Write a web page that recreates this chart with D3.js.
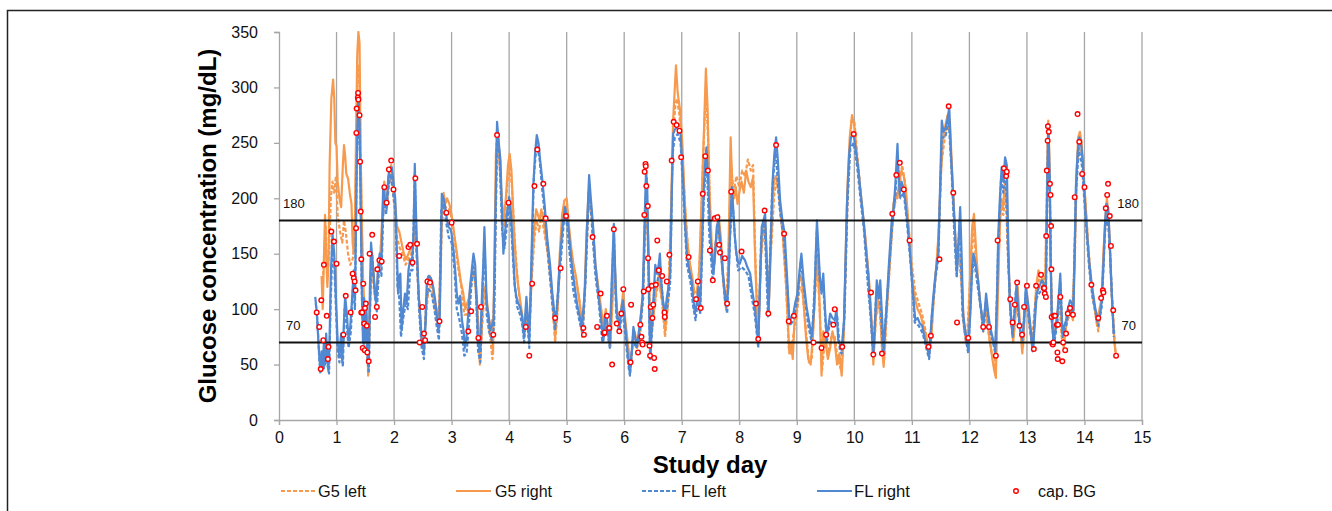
<!DOCTYPE html>
<html><head><meta charset="utf-8">
<script src="https://cdn.jsdelivr.net/npm/d3@7"></script>
<style>body{margin:0;background:#fff;}svg{display:block;font-family:"Liberation Sans",Arial,sans-serif;}</style>
</head><body><svg id="c" width="1332" height="511"></svg>
<script>
const xTicks=[0,1,2,3,4,5,6,7,8,9,10,11,12,13,14,15];
const yTicks=[0,50,100,150,200,250,300,350];
const thresholds=[180,70];
const seriesNames=["G5 left","G5 right","FL left","FL right","cap. BG"];

const flRight=[[0.63,111],[0.66,95],[0.68,75],[0.70,58],[0.72,45],[0.74,62],[0.76,48],[0.78,70],[0.80,50],[0.82,78],[0.84,55],[0.86,44],[0.88,75],[0.90,130],[0.93,168],[0.96,150],[0.99,110],[1.02,70],[1.05,58],[1.08,78],[1.10,52],[1.13,90],[1.15,112],[1.18,95],[1.21,72],[1.24,85],[1.27,110],[1.30,135],[1.32,110],[1.34,180],[1.36,260],[1.38,292],[1.40,270],[1.42,190],[1.44,120],[1.46,70],[1.48,110],[1.50,70],[1.52,100],[1.54,60],[1.56,48],[1.58,120],[1.60,160],[1.63,140],[1.66,120],[1.69,105],[1.72,135],[1.75,150],[1.78,140],[1.81,210],[1.84,200],[1.87,190],[1.90,220],[1.93,228],[1.96,228],[1.99,215],[2.02,200],[2.05,150],[2.07,114],[2.09,130],[2.11,132],[2.13,81],[2.16,100],[2.19,114],[2.22,105],[2.25,135],[2.28,145],[2.31,140],[2.34,170],[2.36,231],[2.38,190],[2.40,150],[2.43,110],[2.45,99],[2.48,72],[2.52,62],[2.55,90],[2.57,126],[2.60,130],[2.64,128],[2.68,120],[2.71,110],[2.74,96],[2.77,82],[2.79,85],[2.81,140],[2.83,204],[2.86,200],[2.89,192],[2.92,180],[2.95,174],[2.98,172],[3.00,168],[3.04,150],[3.07,130],[3.09,114],[3.12,105],[3.15,112],[3.18,90],[3.21,80],[3.23,65],[3.26,75],[3.29,96],[3.32,120],[3.35,135],[3.38,150],[3.41,140],[3.44,102],[3.46,70],[3.49,62],[3.52,102],[3.55,140],[3.57,174],[3.59,140],[3.61,105],[3.64,95],[3.67,81],[3.70,85],[3.73,90],[3.76,180],[3.79,269],[3.82,250],[3.85,234],[3.88,180],[3.90,150],[3.93,170],[3.96,185],[4.00,201],[4.02,195],[4.04,180],[4.07,150],[4.10,120],[4.13,110],[4.16,105],[4.19,102],[4.22,95],[4.26,75],[4.28,95],[4.30,111],[4.33,90],[4.35,72],[4.37,110],[4.39,150],[4.42,210],[4.45,240],[4.48,257],[4.51,250],[4.54,234],[4.58,215],[4.62,192],[4.66,165],[4.71,141],[4.75,115],[4.80,90],[4.83,100],[4.86,125],[4.89,150],[4.93,175],[4.97,192],[5.00,185],[5.03,174],[5.07,150],[5.10,135],[5.14,120],[5.18,105],[5.22,95],[5.26,84],[5.29,100],[5.32,120],[5.35,170],[5.39,221],[5.42,200],[5.46,174],[5.50,140],[5.55,114],[5.58,100],[5.61,85],[5.64,72],[5.67,95],[5.69,96],[5.72,80],[5.75,72],[5.78,120],[5.82,177],[5.84,140],[5.87,96],[5.90,90],[5.92,84],[5.95,100],[5.98,108],[6.01,90],[6.04,72],[6.07,55],[6.10,42],[6.13,60],[6.16,84],[6.19,75],[6.22,66],[6.25,78],[6.28,90],[6.30,100],[6.32,111],[6.34,150],[6.36,190],[6.38,225],[6.40,210],[6.42,150],[6.44,80],[6.46,60],[6.48,90],[6.51,110],[6.54,140],[6.57,132],[6.60,140],[6.62,150],[6.65,120],[6.68,105],[6.71,96],[6.74,110],[6.77,120],[6.80,132],[6.83,210],[6.85,258],[6.88,262],[6.91,264],[6.95,262],[6.98,258],[7.01,230],[7.03,210],[7.06,175],[7.09,150],[7.13,135],[7.17,126],[7.20,110],[7.23,96],[7.26,105],[7.29,120],[7.32,102],[7.35,150],[7.38,204],[7.41,235],[7.43,246],[7.46,215],[7.49,174],[7.52,150],[7.55,132],[7.58,150],[7.61,175],[7.64,180],[7.67,160],[7.69,150],[7.72,130],[7.75,115],[7.78,102],[7.81,120],[7.84,170],[7.87,210],[7.89,195],[7.92,168],[7.95,150],[7.98,142],[8.01,141],[8.05,148],[8.10,144],[8.14,138],[8.19,132],[8.23,115],[8.27,102],[8.30,85],[8.33,69],[8.36,120],[8.39,174],[8.42,180],[8.45,186],[8.48,140],[8.51,96],[8.54,150],[8.58,216],[8.61,240],[8.64,255],[8.67,235],[8.71,198],[8.75,180],[8.79,168],[8.83,130],[8.87,90],[8.90,92],[8.94,96],[8.97,105],[9.01,114],[9.04,130],[9.08,150],[9.12,125],[9.17,102],[9.21,90],[9.26,75],[9.30,100],[9.33,150],[9.35,180],[9.38,150],[9.40,130],[9.43,114],[9.46,132],[9.49,100],[9.52,75],[9.55,85],[9.58,96],[9.62,92],[9.66,90],[9.69,100],[9.72,72],[9.75,68],[9.78,63],[9.82,90],[9.85,150],[9.87,192],[9.91,240],[9.94,255],[9.99,257],[10.03,242],[10.07,226],[10.11,205],[10.16,180],[10.20,155],[10.24,132],[10.28,100],[10.33,60],[10.36,90],[10.39,126],[10.42,110],[10.45,126],[10.48,95],[10.51,63],[10.53,80],[10.56,102],[10.60,140],[10.65,180],[10.68,190],[10.71,210],[10.75,249],[10.77,220],[10.79,204],[10.82,215],[10.85,210],[10.88,200],[10.92,180],[10.97,150],[11.01,120],[11.06,90],[11.10,92],[11.14,87],[11.18,85],[11.23,72],[11.27,65],[11.30,57],[11.34,90],[11.37,110],[11.40,126],[11.43,140],[11.46,150],[11.49,210],[11.52,270],[11.55,260],[11.59,264],[11.62,272],[11.65,282],[11.68,240],[11.71,210],[11.75,170],[11.78,132],[11.81,160],[11.84,192],[11.87,140],[11.89,96],[11.93,80],[11.98,63],[12.02,100],[12.05,140],[12.07,150],[12.11,140],[12.15,126],[12.19,105],[12.24,84],[12.27,100],[12.29,114],[12.33,95],[12.36,84],[12.40,75],[12.45,63],[12.48,110],[12.50,165],[12.53,200],[12.56,228],[12.59,215],[12.62,237],[12.65,230],[12.68,150],[12.70,108],[12.73,90],[12.75,78],[12.79,100],[12.82,123],[12.85,100],[12.88,81],[12.93,75],[12.96,100],[12.98,120],[13.02,105],[13.05,90],[13.08,75],[13.11,66],[13.14,90],[13.17,114],[13.21,120],[13.26,126],[13.30,122],[13.33,120],[13.35,200],[13.37,267],[13.38,250],[13.40,210],[13.41,150],[13.43,96],[13.46,72],[13.49,80],[13.52,90],[13.55,110],[13.58,132],[13.60,100],[13.62,78],[13.65,85],[13.68,90],[13.71,100],[13.75,108],[13.78,105],[13.81,99],[13.83,150],[13.85,210],[13.88,240],[13.91,255],[13.94,250],[13.97,234],[14.00,205],[14.02,186],[14.05,165],[14.08,144],[14.12,125],[14.15,114],[14.19,100],[14.24,90],[14.27,95],[14.30,108],[14.33,140],[14.36,180],[14.38,195],[14.41,192],[14.44,160],[14.47,120],[14.49,95],[14.51,78]];

const flLeft=[[0.64,105],[0.67,88],[0.70,55],[0.72,42],[0.75,60],[0.78,45],[0.81,72],[0.84,50],[0.87,42],[0.90,110],[0.93,155],[0.96,140],[0.99,100],[1.02,62],[1.05,52],[1.08,70],[1.11,48],[1.14,100],[1.17,90],[1.21,65],[1.25,80],[1.29,125],[1.32,100],[1.35,230],[1.38,285],[1.41,240],[1.44,110],[1.47,65],[1.50,95],[1.53,60],[1.56,42],[1.59,120],[1.62,150],[1.66,115],[1.70,98],[1.74,140],[1.78,130],[1.82,200],[1.86,185],[1.90,210],[1.94,222],[1.98,205],[2.02,190],[2.06,120],[2.09,110],[2.12,75],[2.16,92],[2.20,105],[2.24,100],[2.28,135],[2.32,135],[2.36,222],[2.40,140],[2.44,95],[2.48,65],[2.52,55],[2.56,110],[2.60,118],[2.65,115],[2.70,100],[2.74,85],[2.78,72],[2.82,190],[2.86,195],[2.90,180],[2.95,165],[3.00,160],[3.05,135],[3.09,100],[3.13,92],[3.18,78],[3.22,58],[3.26,60],[3.30,85],[3.34,120],[3.38,138],[3.42,120],[3.46,62],[3.50,52],[3.54,120],[3.57,160],[3.61,95],[3.65,80],[3.70,72],[3.74,85],[3.79,262],[3.83,240],[3.88,170],[3.92,155],[3.96,175],[4.00,192],[4.04,170],[4.09,125],[4.14,102],[4.19,95],[4.23,85],[4.26,70],[4.30,100],[4.35,65],[4.39,140],[4.43,220],[4.48,250],[4.53,235],[4.58,205],[4.63,180],[4.69,140],[4.75,105],[4.80,82],[4.85,115],[4.90,145],[4.96,185],[5.01,175],[5.06,145],[5.12,115],[5.18,100],[5.24,85],[5.28,78],[5.33,130],[5.39,212],[5.44,175],[5.50,130],[5.56,105],[5.62,70],[5.67,88],[5.72,75],[5.75,65],[5.79,130],[5.82,170],[5.86,95],[5.92,80],[5.97,100],[6.02,75],[6.07,50],[6.10,40],[6.15,75],[6.20,65],[6.25,70],[6.29,88],[6.33,110],[6.36,180],[6.39,218],[6.42,140],[6.45,55],[6.49,85],[6.53,125],[6.58,125],[6.62,140],[6.67,110],[6.71,90],[6.76,105],[6.80,125],[6.84,240],[6.88,255],[6.93,258],[6.98,250],[7.03,200],[7.09,140],[7.15,125],[7.20,102],[7.24,90],[7.29,112],[7.32,95],[7.38,195],[7.43,240],[7.48,165],[7.54,125],[7.60,165],[7.64,172],[7.70,140],[7.75,108],[7.79,96],[7.84,165],[7.88,200],[7.93,160],[7.98,135],[8.04,138],[8.10,135],[8.16,130],[8.22,110],[8.27,95],[8.33,65],[8.38,165],[8.44,178],[8.50,92],[8.57,205],[8.63,245],[8.70,192],[8.78,160],[8.84,115],[8.88,85],[8.94,90],[9.01,108],[9.07,145],[9.13,115],[9.20,85],[9.26,70],[9.31,120],[9.35,172],[9.40,125],[9.46,120],[9.52,70],[9.58,90],[9.65,85],[9.70,95],[9.75,62],[9.78,60],[9.83,95],[9.88,195],[9.93,245],[9.99,250],[10.05,228],[10.11,198],[10.17,170],[10.23,125],[10.28,95],[10.33,57],[10.38,115],[10.44,118],[10.50,60],[10.55,95],[10.61,140],[10.66,175],[10.71,200],[10.75,235],[10.80,200],[10.86,205],[10.92,175],[10.98,140],[11.05,88],[11.12,85],[11.19,78],[11.25,65],[11.30,55],[11.35,95],[11.41,128],[11.46,145],[11.52,255],[11.58,255],[11.64,270],[11.69,225],[11.74,165],[11.78,128],[11.83,180],[11.88,95],[11.93,75],[11.98,60],[12.04,130],[12.08,145],[12.14,122],[12.20,100],[12.24,80],[12.29,108],[12.35,82],[12.41,70],[12.45,60],[12.50,155],[12.55,218],[12.59,205],[12.63,228],[12.67,150],[12.71,100],[12.75,75],[12.81,118],[12.86,90],[12.92,72],[12.98,115],[13.04,88],[13.10,62],[13.15,108],[13.22,115],[13.28,118],[13.33,115],[13.37,255],[13.40,200],[13.43,90],[13.47,68],[13.53,88],[13.58,125],[13.62,75],[13.68,85],[13.74,102],[13.80,95],[13.85,200],[13.90,245],[13.96,228],[14.02,180],[14.08,138],[14.14,110],[14.20,95],[14.24,85],[14.30,102],[14.36,172],[14.40,185],[14.44,155],[14.48,110],[14.51,75]];

const g5Right=[[0.74,130],[0.76,100],[0.78,145],[0.80,185],[0.82,150],[0.84,120],[0.86,140],[0.88,230],[0.91,290],[0.94,307],[0.96,290],[0.98,250],[1.00,247],[1.02,215],[1.05,200],[1.08,192],[1.11,230],[1.13,248],[1.15,238],[1.17,222],[1.20,218],[1.23,205],[1.26,195],[1.28,160],[1.30,150],[1.32,180],[1.34,260],[1.36,330],[1.38,352],[1.40,340],[1.42,240],[1.44,180],[1.46,130],[1.48,105],[1.50,80],[1.52,95],[1.54,60],[1.55,40],[1.58,100],[1.61,150],[1.64,135],[1.67,115],[1.70,120],[1.73,140],[1.76,145],[1.80,190],[1.83,215],[1.86,200],[1.89,205],[1.92,225],[1.95,230],[1.98,210],[2.02,195],[2.05,175],[2.09,170],[2.13,160],[2.17,150],[2.21,145],[2.25,150],[2.29,155],[2.33,160],[2.36,175],[2.39,160],[2.42,120],[2.45,95],[2.48,70],[2.52,68],[2.55,95],[2.58,125],[2.62,130],[2.66,125],[2.70,110],[2.74,100],[2.77,80],[2.80,130],[2.83,185],[2.86,205],[2.89,195],[2.92,200],[2.96,195],[3.00,185],[3.04,170],[3.08,155],[3.12,140],[3.16,125],[3.20,115],[3.24,100],[3.27,105],[3.30,110],[3.34,125],[3.37,140],[3.40,135],[3.44,110],[3.47,75],[3.50,55],[3.53,90],[3.56,120],[3.60,115],[3.63,100],[3.67,80],[3.70,90],[3.72,60],[3.74,130],[3.77,240],[3.80,260],[3.83,240],[3.87,200],[3.91,180],[3.95,205],[3.98,230],[4.01,240],[4.04,225],[4.08,175],[4.12,140],[4.16,120],[4.20,105],[4.24,90],[4.27,80],[4.30,105],[4.33,80],[4.36,90],[4.40,140],[4.44,175],[4.47,190],[4.50,185],[4.53,180],[4.56,190],[4.60,180],[4.65,160],[4.70,140],[4.75,110],[4.80,75],[4.84,100],[4.88,150],[4.92,185],[4.96,198],[5.00,200],[5.04,175],[5.08,155],[5.12,140],[5.16,130],[5.20,115],[5.24,100],[5.27,80],[5.30,100],[5.34,160],[5.38,205],[5.42,195],[5.46,170],[5.50,140],[5.55,120],[5.60,100],[5.64,85],[5.68,100],[5.72,80],[5.76,70],[5.80,110],[5.83,150],[5.86,110],[5.90,85],[5.94,95],[5.98,115],[6.02,90],[6.06,70],[6.10,50],[6.14,65],[6.18,80],[6.22,70],[6.26,75],[6.30,100],[6.33,120],[6.36,170],[6.39,205],[6.42,160],[6.45,75],[6.48,80],[6.52,100],[6.56,120],[6.60,130],[6.64,115],[6.68,100],[6.71,80],[6.75,100],[6.79,140],[6.82,200],[6.85,270],[6.88,300],[6.90,320],[6.93,295],[6.97,280],[7.01,250],[7.05,200],[7.09,165],[7.13,145],[7.18,130],[7.22,115],[7.26,115],[7.30,130],[7.34,190],[7.38,250],[7.42,317],[7.45,280],[7.48,210],[7.52,160],[7.56,140],[7.60,165],[7.64,185],[7.68,165],[7.72,130],[7.76,105],[7.80,120],[7.83,200],[7.85,255],[7.88,210],[7.91,200],[7.94,210],[7.97,195],[8.00,205],[8.04,215],[8.08,205],[8.12,225],[8.16,215],[8.20,210],[8.24,219],[8.27,156],[8.30,110],[8.33,75],[8.37,140],[8.41,175],[8.45,180],[8.49,130],[8.52,110],[8.56,170],[8.60,215],[8.64,220],[8.68,210],[8.72,185],[8.76,165],[8.80,135],[8.84,95],[8.87,60],[8.90,70],[8.93,55],[8.96,90],[9.00,100],[9.04,125],[9.08,130],[9.12,105],[9.16,75],[9.20,55],[9.24,50],[9.28,75],[9.32,120],[9.36,150],[9.40,100],[9.43,40],[9.46,80],[9.50,70],[9.54,55],[9.58,65],[9.62,80],[9.66,70],[9.70,50],[9.74,60],[9.78,40],[9.82,80],[9.85,150],[9.88,210],[9.92,255],[9.96,275],[10.00,265],[10.05,235],[10.10,210],[10.15,185],[10.20,160],[10.25,130],[10.29,100],[10.33,50],[10.37,90],[10.41,110],[10.45,100],[10.48,65],[10.51,48],[10.55,90],[10.60,130],[10.64,165],[10.68,195],[10.72,205],[10.75,200],[10.78,215],[10.82,225],[10.86,220],[10.90,205],[10.95,170],[11.00,130],[11.05,110],[11.10,100],[11.15,95],[11.20,85],[11.25,75],[11.30,60],[11.34,75],[11.38,110],[11.42,135],[11.46,165],[11.50,215],[11.54,255],[11.58,265],[11.62,275],[11.66,270],[11.70,225],[11.74,180],[11.78,140],[11.82,150],[11.86,135],[11.90,90],[11.94,70],[11.98,80],[12.02,140],[12.05,175],[12.08,186],[12.12,150],[12.16,120],[12.20,100],[12.24,85],[12.28,105],[12.32,85],[12.36,70],[12.40,55],[12.43,45],[12.46,38],[12.49,100],[12.52,160],[12.55,200],[12.58,190],[12.62,215],[12.65,205],[12.68,140],[12.72,95],[12.76,70],[12.80,95],[12.84,120],[12.88,85],[12.92,60],[12.96,95],[13.00,115],[13.04,90],[13.08,70],[13.12,80],[13.16,120],[13.20,135],[13.24,130],[13.28,125],[13.32,130],[13.35,210],[13.37,270],[13.39,240],[13.41,150],[13.44,85],[13.47,70],[13.50,85],[13.54,100],[13.58,120],[13.61,75],[13.64,65],[13.68,85],[13.72,95],[13.76,100],[13.80,90],[13.83,150],[13.86,220],[13.89,255],[13.92,260],[13.95,250],[13.98,225],[14.02,195],[14.06,160],[14.10,130],[14.14,115],[14.18,100],[14.22,85],[14.26,100],[14.30,110],[14.33,150],[14.36,180],[14.39,200],[14.42,185],[14.46,130],[14.49,100],[14.52,70],[14.55,57]];

const g5Left=[[0.75,120],[0.78,140],[0.81,175],[0.84,130],[0.87,150],[0.90,200],[0.93,215],[0.96,205],[0.99,220],[1.02,185],[1.06,170],[1.10,160],[1.13,180],[1.16,170],[1.20,150],[1.24,140],[1.28,145],[1.31,160],[1.34,230],[1.37,320],[1.40,300],[1.43,200],[1.46,120],[1.49,90],[1.52,85],[1.55,50],[1.59,110],[1.63,140],[1.67,110],[1.71,120],[1.75,140],[1.80,180],[1.84,200],[1.88,195],[1.92,215],[1.96,220],[2.00,195],[2.05,165],[2.10,155],[2.15,150],[2.20,140],[2.25,145],[2.30,150],[2.35,165],[2.39,150],[2.43,110],[2.47,80],[2.51,65],[2.55,90],[2.60,120],[2.65,120],[2.70,105],[2.75,90],[2.79,90],[2.83,175],[2.87,195],[2.92,190],[2.97,190],[3.02,175],[3.07,155],[3.12,135],[3.17,120],[3.22,95],[3.26,95],[3.31,105],[3.36,130],[3.40,130],[3.45,95],[3.49,50],[3.53,85],[3.57,115],[3.62,100],[3.67,75],[3.71,55],[3.75,140],[3.79,245],[3.83,235],[3.88,190],[3.92,175],[3.97,215],[4.01,230],[4.05,210],[4.10,160],[4.15,125],[4.20,100],[4.25,85],[4.30,95],[4.34,75],[4.39,125],[4.44,165],[4.48,180],[4.52,170],[4.56,185],[4.61,170],[4.67,150],[4.73,120],[4.80,70],[4.85,105],[4.90,160],[4.95,190],[5.00,195],[5.05,165],[5.11,140],[5.17,125],[5.23,105],[5.27,75],[5.32,120],[5.38,195],[5.43,185],[5.49,140],[5.55,115],[5.61,95],[5.66,88],[5.71,78],[5.76,65],[5.81,140],[5.85,115],[5.90,80],[5.96,105],[6.02,85],[6.07,65],[6.11,48],[6.16,75],[6.22,65],[6.27,70],[6.32,110],[6.36,165],[6.39,195],[6.43,130],[6.46,70],[6.51,95],[6.56,115],[6.61,125],[6.66,105],[6.71,75],[6.76,105],[6.81,180],[6.85,255],[6.89,285],[6.92,290],[6.96,275],[7.01,240],[7.06,190],[7.11,155],[7.17,128],[7.22,110],[7.27,112],[7.32,150],[7.37,235],[7.42,300],[7.46,250],[7.51,160],[7.56,135],[7.62,175],[7.67,160],[7.72,125],[7.77,100],[7.82,160],[7.86,230],[7.90,205],[7.95,220],[8.00,210],[8.05,225],[8.10,220],[8.15,235],[8.20,225],[8.24,230],[8.28,145],[8.33,72],[8.38,150],[8.44,175],[8.50,120],[8.56,160],[8.61,205],[8.65,215],[8.70,200],[8.75,170],[8.81,125],[8.86,65],[8.90,60],[8.95,80],[9.00,95],[9.05,120],[9.10,115],[9.16,80],[9.21,52],[9.26,55],[9.31,110],[9.36,140],[9.40,95],[9.44,45],[9.49,75],[9.54,60],[9.60,75],[9.66,75],[9.71,55],[9.77,45],[9.82,85],[9.86,160],[9.90,225],[9.95,270],[10.00,270],[10.05,240],[10.11,205],[10.17,175],[10.23,140],[10.28,105],[10.33,55],[10.38,95],[10.43,105],[10.48,70],[10.52,55],[10.57,100],[10.63,150],[10.68,190],[10.73,200],[10.78,210],[10.83,230],[10.88,215],[10.94,175],[11.00,140],[11.06,115],[11.12,105],[11.18,95],[11.24,80],[11.29,62],[11.34,80],[11.40,125],[11.46,160],[11.51,230],[11.56,250],[11.61,268],[11.66,260],[11.71,210],[11.76,160],[11.81,150],[11.86,125],[11.91,80],[11.96,75],[12.02,135],[12.07,175],[12.12,140],[12.18,110],[12.24,80],[12.29,100],[12.34,75],[12.39,60],[12.44,45],[12.49,120],[12.54,190],[12.59,185],[12.63,205],[12.67,150],[12.72,90],[12.77,75],[12.83,115],[12.88,80],[12.93,65],[12.98,110],[13.04,85],[13.09,72],[13.15,110],[13.21,128],[13.27,122],[13.32,125],[13.36,250],[13.39,230],[13.42,120],[13.46,72],[13.51,85],[13.56,110],[13.61,70],[13.66,80],[13.72,92],[13.78,95],[13.83,140],[13.87,230],[13.91,250],[13.96,240],[14.01,200],[14.07,155],[14.13,118],[14.19,95],[14.24,80],[14.29,105],[14.34,160],[14.39,190],[14.43,170],[14.47,115],[14.51,85],[14.54,60]];

const capBG=[[0.655,97],[0.70,84],[0.725,46],[0.735,108],[0.77,72],[0.78,140],[0.83,94],[0.85,55],[0.86,66],[0.91,170],[0.956,161],[1.0,141],[1.12,77],[1.16,112],[1.245,97],[1.28,132],[1.30,128],[1.315,125],[1.33,117],[1.34,173],[1.345,259],[1.35,281],[1.37,291],[1.375,295],[1.38,289],[1.40,275],[1.41,233],[1.42,188],[1.43,145],[1.43,97],[1.445,97],[1.455,65],[1.465,123],[1.48,87],[1.49,63],[1.495,101],[1.51,105],[1.525,85],[1.535,61],[1.56,53],[1.575,150],[1.62,167],[1.67,93],[1.70,102],[1.71,136],[1.745,144],[1.785,143],[1.83,210],[1.87,196],[1.91,226],[1.95,234],[1.99,208],[2.09,148],[2.25,156],[2.28,158],[2.32,142],[2.37,218],[2.40,159],[2.445,70],[2.49,102],[2.52,78],[2.54,72],[2.58,125],[2.625,124],[2.79,89],[2.91,187],[3.0,178],[3.29,80],[3.34,98],[3.465,74],[3.51,102],[3.725,77],[3.79,257],[3.99,196],[4.29,84],[4.35,58],[4.40,123],[4.44,211],[4.49,244],[4.595,213],[4.635,182],[4.80,92],[4.895,137],[4.99,184],[5.29,83],[5.30,77],[5.45,165],[5.53,84],[5.59,114],[5.65,78],[5.66,79],[5.70,94],[5.74,83],[5.79,50],[5.82,172],[5.87,87],[5.915,80],[5.95,96],[5.985,118],[6.11,52],[6.12,104],[6.24,61],[6.28,86],[6.30,75],[6.31,70],[6.32,68],[6.34,116],[6.35,185],[6.355,224],[6.37,231],[6.375,229],[6.385,211],[6.41,193],[6.415,146],[6.42,118],[6.44,67],[6.45,58],[6.46,102],[6.48,121],[6.49,92],[6.505,104],[6.52,56],[6.53,46],[6.55,122],[6.575,162],[6.60,135],[6.66,130],[6.70,97],[6.705,93],[6.74,125],[6.785,149],[6.825,234],[6.86,269],[6.91,266],[6.96,261],[6.99,237],[7.12,147],[7.25,109],[7.28,125],[7.33,101],[7.365,204],[7.41,238],[7.455,225],[7.49,153],[7.54,126],[7.575,182],[7.62,183],[7.65,158],[7.665,151],[7.75,146],[7.79,105],[7.86,206],[8.04,152],[8.29,105],[8.33,73],[8.44,189],[8.505,96],[8.64,248],[8.78,168],[8.86,89],[8.95,94],[9.29,70],[9.43,65],[9.51,77],[9.635,86],[9.66,100],[9.79,66],[9.99,258],[10.29,115],[10.33,59],[10.48,60],[10.66,186],[10.73,221],[10.79,232],[10.86,208],[10.96,162],[11.29,66],[11.33,76],[11.48,145],[11.64,283],[11.72,205],[11.785,88],[11.98,74],[12.24,84],[12.34,84],[12.46,58],[12.49,162],[12.60,227],[12.64,220],[12.65,224],[12.71,109],[12.75,88],[12.79,104],[12.83,124],[12.87,85],[12.915,77],[12.95,102],[13.0,121],[13.12,64],[13.16,121],[13.245,131],[13.29,119],[13.30,119],[13.31,114],[13.33,111],[13.335,166],[13.345,225],[13.36,252],[13.365,265],[13.38,260],[13.40,213],[13.41,203],[13.42,175],[13.425,136],[13.43,93],[13.44,69],[13.45,68],[13.46,70],[13.47,94],[13.49,94],[13.52,86],[13.53,61],[13.535,55],[13.54,86],[13.58,111],[13.615,53],[13.63,70],[13.665,63],[13.68,78],[13.71,96],[13.75,101],[13.80,95],[13.83,201],[13.88,276],[13.91,251],[13.96,222],[14.0,210],[14.12,122],[14.24,92],[14.29,110],[14.32,117],[14.33,115],[14.37,191],[14.395,203],[14.41,213],[14.44,184],[14.46,157],[14.50,99],[14.55,58]];

const ORANGE="#F79A4E", BLUE="#5089D2", RED="#FF0000";
const svg=d3.select("#c");
const x=d3.scaleLinear().domain([0,15]).range([279,1142]);
const y=d3.scaleLinear().domain([0,350]).range([420,32]);

// frame
svg.append("path").attr("d","M7.5,511 V10.5 H1332").attr("fill","none").attr("stroke","#222").attr("stroke-width",1.5);

// gridlines
svg.append("g").selectAll("line").data(xTicks.filter(d=>d>0)).join("line")
 .attr("x1",d=>x(d)).attr("x2",d=>x(d)).attr("y1",y(350)).attr("y2",y(0))
 .attr("stroke","#A6A6A6").attr("stroke-width",1.3);

// axes
const xAxis=svg.append("g").attr("transform",`translate(0,${y(0)})`)
 .call(d3.axisBottom(x).tickValues(xTicks).tickSize(5).tickPadding(7).tickFormat(d3.format("d")));
const yAxis=svg.append("g").attr("transform",`translate(${x(0)},0)`)
 .call(d3.axisLeft(y).tickValues(yTicks).tickSize(5).tickPadding(16));
[xAxis,yAxis].forEach(a=>{a.select(".domain").attr("stroke","#A6A6A6").attr("stroke-width",1.3);
 a.selectAll(".tick line").attr("stroke","#A6A6A6").attr("stroke-width",1.3);
 a.selectAll("text").attr("font-size",16).attr("fill","#111").attr("font-family","Liberation Sans, Arial, sans-serif");});

// series
const line=d3.line().x(d=>x(d[0])).y(d=>y(Math.min(d[1],350))).curve(d3.curveLinear);
const seriesDefs=[
 {data:g5Left,color:ORANGE,dash:"4,2"},
 {data:g5Right,color:ORANGE,dash:null},
 {data:flLeft,color:BLUE,dash:"4,2"},
 {data:flRight,color:BLUE,dash:null}];
svg.append("clipPath").attr("id","pc").append("rect").attr("x",x(0)).attr("y",y(350)-1).attr("width",x(15)-x(0)).attr("height",y(0)-y(350)+1);
seriesDefs.forEach(s=>{
 svg.append("path").datum(s.data).attr("d",line).attr("fill","none")
  .attr("stroke",s.color).attr("stroke-width",2.2).attr("stroke-linejoin","round")
  .attr("stroke-dasharray",s.dash).attr("clip-path","url(#pc)");
});

// thresholds
svg.append("g").selectAll("line").data(thresholds).join("line")
 .attr("x1",x(0)).attr("x2",x(15)).attr("y1",d=>y(d)).attr("y2",d=>y(d))
 .attr("stroke","#111").attr("stroke-width",2);
thresholds.forEach(t=>{
 svg.append("text").attr("x",t===180?283:286).attr("y",y(t)-12).attr("font-size",13).attr("fill","#111").text(t);
 svg.append("text").attr("x",t===180?1139:1136).attr("y",y(t)-12).attr("font-size",13).attr("fill","#111").attr("text-anchor","end").text(t);
});

// cap BG
svg.append("g").selectAll("circle").data(capBG).join("circle")
 .attr("cx",d=>x(d[0])).attr("cy",d=>y(d[1])).attr("r",2.3)
 .attr("fill","#fff").attr("stroke",RED).attr("stroke-width",1.4);

// axis titles
svg.append("text").attr("transform",`translate(216,226) rotate(-90)`).attr("text-anchor","middle")
 .attr("font-size",24).attr("font-weight","bold").attr("fill","#000").text("Glucose concentration (mg/dL)");
svg.append("text").attr("x",710).attr("y",473).attr("text-anchor","middle")
 .attr("font-size",24).attr("font-weight","bold").attr("fill","#000").text("Study day");

// legend
const legX=[281,456,642,817,1016];
const legTextX=[318,495,681,854,1038];
const legW=[48,57,45,56,58];
const lg=svg.append("g");
seriesDefs.forEach((s,i)=>{
 lg.append("line").attr("x1",legX[i]).attr("x2",legX[i]+35).attr("y1",491).attr("y2",491)
  .attr("stroke",s.color).attr("stroke-width",2.2).attr("stroke-dasharray",s.dash);
});
lg.append("circle").attr("cx",legX[4]).attr("cy",491).attr("r",2.3).attr("fill","#fff").attr("stroke",RED).attr("stroke-width",1.4);
seriesNames.forEach((n,i)=>{
 lg.append("text").attr("x",legTextX[i]).attr("y",497).attr("font-size",16).attr("fill","#111")
  .attr("textLength",legW[i]).attr("lengthAdjust","spacingAndGlyphs").text(n);
});
</script></body></html>
